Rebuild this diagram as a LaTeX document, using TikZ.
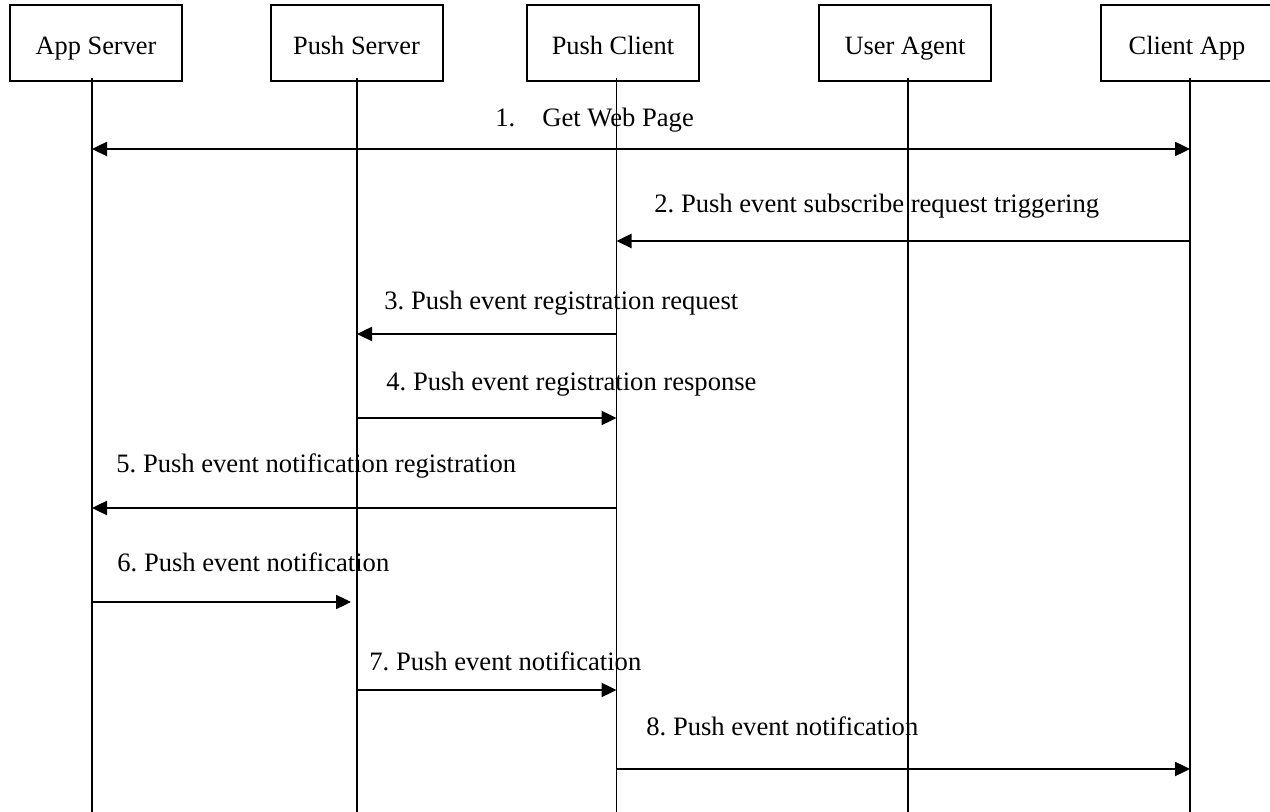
\documentclass[tikz,border=0pt]{standalone}
\usepackage{fontspec}
\setmainfont{Liberation Serif}
\usetikzlibrary{arrows.meta}
\begin{document}
\frenchspacing
\begin{tikzpicture}[x=0.5pt,y=-0.5pt,
  actor/.style={draw,line width=1pt,minimum width=86pt,minimum height=38pt,inner sep=0pt,
    text height=14pt,text depth=2pt,font=\fontsize{13.2}{15}\selectfont},
  life/.style={line width=0.7pt},
  msg/.style={line width=1.2pt,-{Triangle[length=7.5pt,width=7pt]}},
  bimsg/.style={line width=1.2pt,{Triangle[length=7.5pt,width=7pt]}-{Triangle[length=7.5pt,width=7pt]}},
  lbl/.style={anchor=base west,inner sep=0pt,font=\fontsize{13.3}{15}\selectfont}]
\clip (0,0) rectangle (1270,812);
\fill[white] (0,0) rectangle (1270,812);

% participants
\node[actor] (as) at (96,43) {App Server};
\node[actor] (ps) at (356.5,43) {Push Server};
\node[actor] (pc) at (613,43) {Push Client};
\node[actor] (ua) at (905,43) {User Agent};
\node[actor] (ca) at (1187,43) {Client App};

% lifelines
\coordinate (l1) at (92,78);    \coordinate (l1b) at (92,812);
\coordinate (l2) at (357,78);   \coordinate (l2b) at (357,812);
\coordinate (l3) at (616.5,78); \coordinate (l3b) at (616.5,812);
\coordinate (l4) at (908,78);   \coordinate (l4b) at (908,812);
\coordinate (l5) at (1190,78);  \coordinate (l5b) at (1190,812);
\foreach \l in {l1,l2,l3,l4,l5} \draw[life] (\l) -- (\l b);

% message rows
\coordinate (r1) at (0,149);
\coordinate (r2) at (0,241);
\coordinate (r3) at (0,334);
\coordinate (r4) at (0,418);
\coordinate (r5) at (0,508);
\coordinate (r6) at (0,602);
\coordinate (r7) at (0,690);
\coordinate (r8) at (0,769);
\coordinate (e6) at (351,602);

\draw[bimsg] (l1 |- r1) -- (l5 |- r1);
\draw[msg] (l5 |- r2) -- (l3 |- r2);
\draw[msg] (l3 |- r3) -- (l2 |- r3);
\draw[msg] (l2 |- r4) -- (l3 |- r4);
\draw[msg] (l3 |- r5) -- (l1 |- r5);
\draw[msg] (l1 |- r6) -- (e6);
\draw[msg] (l2 |- r7) -- (l3 |- r7);
\draw[msg] (l3 |- r8) -- (l5 |- r8);

% message labels
\node[lbl] (t1) at (495,127) {1.\hspace{13.5pt}Get Web Page};
\node[lbl] (t2) at (654,213) {2. Push event subscribe request triggering};
\node[lbl] (t3) at (384,310) {3. Push event registration request};
\node[lbl] (t4) at (386,391) {4. Push event registration response};
\node[lbl] (t5) at (116,473) {5. Push event notification registration};
\node[lbl] (t6) at (117,572) {6. Push event notification};
\node[lbl] (t7) at (369,670) {7. Push event notification};
\node[lbl] (t8) at (646,735) {8. Push event notification};
\end{tikzpicture}
\end{document}
